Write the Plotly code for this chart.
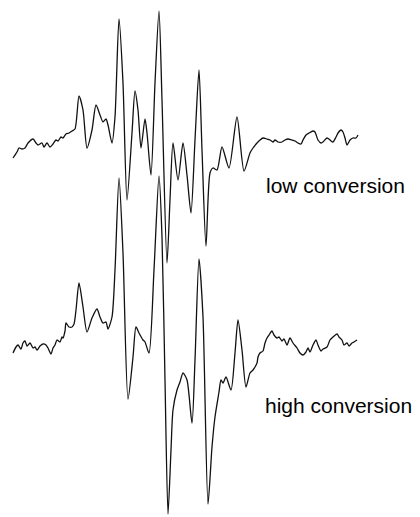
import plotly.graph_objects as go

# Low conversion spectrum (field position, signal relative to baseline)
low_field = [13, 17, 19, 22, 25, 28, 33, 36, 38, 42, 44, 47, 50, 53, 56, 58, 61, 63, 66, 69,
             72, 75, 79, 83, 87, 92, 96, 100, 103, 106, 108, 112, 115, 119, 123, 127, 132, 135, 138, 141,
             145, 147, 151, 155, 159, 162, 167, 170, 173, 178, 183, 187, 191, 195, 199, 202, 206, 210, 213, 217,
             222, 229, 237, 244, 250, 253, 257, 260, 263, 267, 270, 273, 275, 278, 282, 285, 288, 292, 295, 298,
             301, 303, 306, 309, 313, 315, 318, 321, 323, 327, 330, 333, 336, 338, 341, 343, 345, 347, 350, 353,
             356, 358]
low_signal = [-15, -9, -5, -6, -5, 0, 4, 0, -2, 0, -4, 0, -4, -1, 3, 2, 6, 5, 9, 10,
              12, 14, 47, 33, -5, 13, 38, 28, 21, 24, 18, 0, 26, 124, 60, -57, 10, 52, 33, -5,
              24, 10, -32, 60, 132, 43, -120, -57, 0, -37, 0, -32, -70, 3, 73, -7, -103, -30, -25, -27,
              -4, -25, 26, -28, -10, -5, 0, 3, 5, 4, 3, 1, 3, 1, 1, 3, 4, 3, 2, 0,
              -1, 3, 8, 10, 12, 11, 3, 0, 1, 5, 3, 1, 6, 10, 13, 11, 5, -2, 3, 5,
              5, 8]

# High conversion spectrum
high_field = [13, 16, 18, 21, 23, 25, 27, 30, 33, 35, 37, 40, 43, 46, 48, 51, 53, 55, 57, 60,
              62, 63, 65, 66, 69, 72, 74, 76, 79, 83, 87, 92, 97, 100, 103, 106, 108, 112, 115, 119,
              123, 128, 133, 136, 139, 143, 145, 149, 154, 159, 162, 165, 168, 171, 173, 177, 180, 183, 187, 192,
              195, 199, 203, 208, 212, 215, 219, 221, 223, 226, 231, 235, 238, 242, 246, 250, 253, 257, 258, 260,
              263, 265, 267, 269, 272, 274, 277, 279, 282, 284, 287, 290, 293, 297, 300, 303, 306, 308, 310, 313,
              316, 318, 321, 323, 327, 330, 333, 337, 339, 342, 344, 347, 349, 352, 354, 357]
high_signal = [-8, -2, 0, -4, 2, 4, -1, 2, -3, -2, -5, -1, 1, 0, -3, -9, -3, 0, 5, 3,
               8, 7, 14, 22, 18, 18, 21, 35, 62, 38, 13, 27, 36, 28, 22, 23, 16, 28, 75, 167,
               92, -54, -12, 18, 12, 5, 3, -8, 75, 169, 108, -35, -169, -105, -65, -45, -37, -28, -35, -78,
               -15, 86, 28, -159, -102, -72, -47, -35, -38, -32, -45, -8, 25, -5, -42, -28, -25, -18, -12, -8,
               -6, 2, 7, 10, 14, 10, 7, 8, 4, 6, 0, 7, 2, -3, -8, -10, -7, -3, -7, 0,
               5, 0, -6, -4, -2, 5, 8, 11, 8, 5, 0, 2, -1, 2, 3, 5]

labels = ["low conversion", "high conversion"]

low_offset = 374
high_offset = 172

fig = go.Figure()
fig.add_trace(go.Scatter(x=low_field, y=[v + low_offset for v in low_signal], mode="lines",
                         line=dict(color="#111111", width=1.3, shape="spline", smoothing=0.7),
                         showlegend=False))
fig.add_trace(go.Scatter(x=high_field, y=[v + high_offset for v in high_signal], mode="lines",
                         line=dict(color="#111111", width=1.3, shape="spline", smoothing=0.7),
                         showlegend=False))

fig.add_annotation(x=264, y=332, text=labels[0], showarrow=False, xanchor="left", yanchor="middle",
                   font=dict(family="Liberation Sans, Arial", size=21, color="#000000"))
fig.add_annotation(x=263, y=112, text=labels[1], showarrow=False, xanchor="left", yanchor="middle",
                   font=dict(family="Liberation Sans, Arial", size=21, color="#000000"))

fig.update_layout(width=420, height=517, margin=dict(l=0, r=0, t=0, b=0),
                  paper_bgcolor="white", plot_bgcolor="white",
                  xaxis=dict(range=[0, 420], visible=False),
                  yaxis=dict(range=[0, 517], visible=False))
fig.write_html("out.html")
